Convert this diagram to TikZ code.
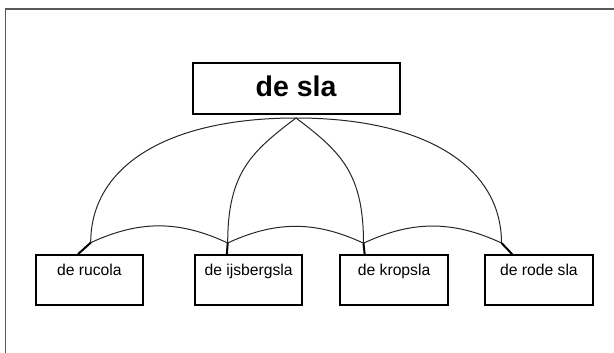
\documentclass[tikz,border=0pt]{standalone}
\usepackage{fontspec}
\setmainfont{Liberation Sans}
\usetikzlibrary{positioning}

\begin{document}
\begin{tikzpicture}[x=1pt,y=1pt,root/.style={draw,line width=2pt,minimum width=207pt,minimum height=51pt,text height=21pt,text depth=6pt,font=\bfseries\fontsize{28.5}{32}\selectfont},leaf/.style={draw,line width=2pt,minimum width=107.5pt,inner sep=4pt,text height=16pt,text depth=26pt,font=\fontsize{15.7}{18}\selectfont},bow/.style={line width=1pt,black!85},link/.style={line width=2pt}]
\useasboundingbox (0,0) rectangle (614,-353);
\draw[line width=1.5pt,black!65] (5.5,-353) |- (614,-9);
\node[root] (sla) at (296,-89) {de sla};
\node[leaf] (rucola) at (89.4,-280.2) {de rucola};
\node[leaf,right=49.7pt of rucola] (ijsberg) {de ijsbergsla};
\node[leaf,right=36pt of ijsberg] (krop) {de kropsla};
\node[leaf,right=35.3pt of krop] (rode) {de rode sla};
\coordinate (hub) at (296,-118);
\coordinate (j1) at (90.7,-242.7);\coordinate (j2) at (227.7,-243);\coordinate (j3) at (363.5,-243.2);\coordinate (j4) at (501.5,-243);
\draw[bow](hub) to[out=180,in=90,out distance=128pt,in distance=77pt] (j1);\draw[bow](hub) to[out=217,in=90,out distance=56pt,in distance=70pt] (j2);
\draw[bow](hub) to[out=-37,in=90,out distance=56pt,in distance=70pt] (j3);\draw[bow](hub) to[out=0,in=90,out distance=128pt,in distance=77pt] (j4);
\draw[bow](j1) to[bend left=25] (j2);\draw[bow](j2) to[bend left=25] (j3);\draw[bow](j3) to[bend left=25] (j4);
\draw[link](j1)--([xshift=43.3pt]rucola.north west);\draw[link](j2)--([xshift=33pt]ijsberg.north west);
\draw[link](j3)--([xshift=25.3pt]krop.north west);\draw[link](j4)--([xshift=28pt]rode.north west);
\end{tikzpicture}
\end{document}
